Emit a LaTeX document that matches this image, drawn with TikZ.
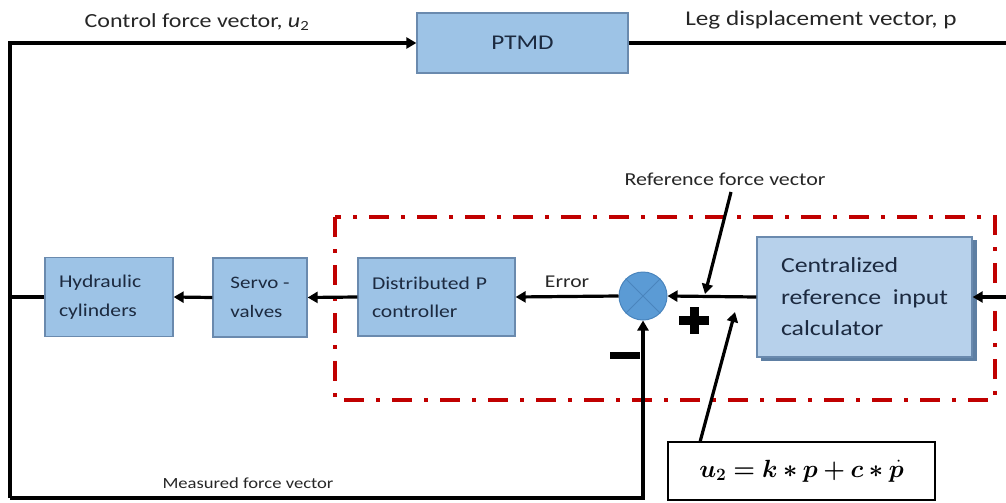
\documentclass[tikz,border=0pt]{standalone}
\usepackage{amsmath,bm}
\usepackage{fontspec}
\setmainfont[FakeStretch=1.2]{Carlito}
\usetikzlibrary{arrows.meta,calc}
\definecolor{boxfill}{HTML}{9DC3E6}
\definecolor{boxfillL}{HTML}{B7D1EB}
\definecolor{boxdraw}{HTML}{6A8AAE}
\definecolor{shadowc}{HTML}{5E7FA3}
\definecolor{sumfill}{HTML}{5B9BD5}
\definecolor{sumdraw}{HTML}{4A85BD}
\definecolor{txtdark}{HTML}{1C2A40}
\definecolor{lbl}{HTML}{262626}
\definecolor{redline}{HTML}{C00000}
\begin{document}
\begin{tikzpicture}[x=1pt,y=-1pt,
  blk/.style={draw=boxdraw, line width=1.3pt, fill=boxfill, text=txtdark, align=left, inner sep=0pt},
  conn/.style={line width=3.2pt, draw=black},
  arr/.style={conn, -{Triangle[length=10pt,width=11pt]}},
  lab/.style={text=lbl, inner sep=0pt},
  redbox/.style={draw=redline, line width=4pt, dash pattern=on 20pt off 12pt on 4pt off 12pt}
]
\useasboundingbox (0,0) rectangle (1006,503);

% red dash-dot frame
\draw[redbox] (335,217) rectangle (995,400);

% blocks
\node[blk, minimum width=211pt, minimum height=60pt, align=center,
      font=\fontsize{21}{25}\selectfont] (ptmd) at (522.5,43) {PTMD};
\node[blk, minimum height=79pt, inner xsep=14pt, text width=100pt,
      font=\fontsize{18}{29}\selectfont] (hyd) at (109,297) {Hydraulic\\cylinders};
\node[blk, minimum width=94pt, minimum height=79pt,
      font=\fontsize{17.5}{29}\selectfont] (servo) at (260,297.5) {Servo -\\valves};
\node[blk, minimum height=78pt, inner xsep=14pt, text width=129pt,
      font=\fontsize{18}{28}\selectfont] (dist) at (436.5,297) {Distributed P\\controller};
% shadow of centralized block
\fill[shadowc] (761,240) rectangle (977,361);
\node[blk, fill=boxfillL, minimum width=215pt, minimum height=120pt,
      font=\fontsize{21.5}{31.5}\selectfont] (cent) at (864.5,297) {Centralized\\reference~ input\\calculator};

% summing junction
\node[circle, draw=sumdraw, line width=1pt, fill=sumfill, minimum size=48pt, inner sep=0pt] (sum) at (643,296) {};
\draw[sumdraw, line width=1pt] (sum.north west) -- (sum.south east);
\draw[sumdraw, line width=1pt] (sum.north east) -- (sum.south west);

% formula
\node[draw=black, line width=1.8pt, fill=white, minimum width=267pt, minimum height=58pt,
      font=\fontsize{25}{29}\selectfont] (fml) at (801.5,471)
      {$\bm{u_2 = k \ast p + c \ast \dot{p}}$};

% coordinates for free ends
\coordinate (tl) at (10,43);
\coordinate (bl) at (10,498);
\coordinate (pout) at (1006,43);
\coordinate (rin) at (1006,297);
\coordinate (refstart) at (731,192);
\coordinate (refend) at (705,294);
\coordinate (fmlstart) at (700,442);
\coordinate (fmlend) at (735,312);

% labels
\node[lab, font=\fontsize{20}{24}\selectfont] (lctl) at (197,22) {Control force vector, \textit{u}\textsubscript{2}};
\node[lab, font=\fontsize{21}{25}\selectfont] (lleg) at (821,20) {Leg displacement vector, p};
\node[lab, font=\fontsize{18.3}{22}\selectfont] (lref) at (725,179) {Reference force vector};
\node[lab, font=\fontsize{15.5}{19}\selectfont] (lmeas) at (248,483) {Measured force vector};

% connectors
\draw[arr] (bl) -- (tl) -- (ptmd.west);
\draw[conn] (ptmd.east) -- (pout);
\draw[conn] (hyd.west) -- (hyd.west -| tl);
\draw[arr] (bl) -| (sum.south);
\draw[arr] (rin) -- (cent.east);
\draw[arr] (cent.west) -- (sum.east);
\draw[arr] (sum.west) -- node[lab, above=7pt, font=\fontsize{18}{22}\selectfont] (lerr) {Error} (dist.east);
\draw[arr] (dist.west) -- (servo.east);
\draw[arr] (servo.west) -- (hyd.east);
\draw[arr] (refstart) -- (refend);
\draw[arr] (fmlstart) -- (fmlend);

% plus and minus signs
\fill[black] (679,316) rectangle (709,325);
\fill[black] (689.5,307) rectangle (698.5,334);
\fill[black] (610,352) rectangle (640,359);
\end{tikzpicture}
\end{document}
